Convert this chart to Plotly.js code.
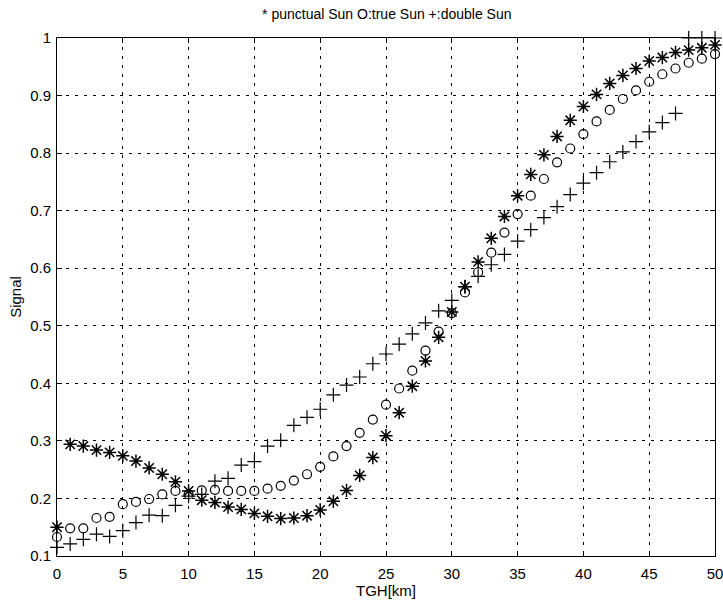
<!DOCTYPE html>
<html>
<head>
<meta charset="utf-8">
<script src="https://cdn.plot.ly/plotly-3.0.1.min.js"></script>
<style>html,body{margin:0;padding:0;background:#fff;}#chart{width:723px;height:603px;}</style>
</head>
<body>
<div id="chart"></div>
<script>
const xValues = [0,1,2,3,4,5,6,7,8,9,10,11,12,13,14,15,16,17,18,19,20,21,22,23,24,25,26,27,28,29,30,31,32,33,34,35,36,37,38,39,40,41,42,43,44,45,46,47,48,49,50];
const punctualSun = [0.150,0.294,0.291,0.284,0.280,0.274,0.265,0.253,0.242,0.229,0.213,0.197,0.193,0.185,0.181,0.174,0.169,0.165,0.166,0.170,0.180,0.195,0.214,0.240,0.271,0.309,0.349,0.395,0.439,0.480,0.524,0.568,0.611,0.652,0.690,0.726,0.763,0.797,0.829,0.857,0.881,0.902,0.921,0.935,0.947,0.960,0.966,0.975,0.979,0.983,0.988];
const trueSun = [0.133,0.148,0.148,0.166,0.168,0.190,0.194,0.199,0.207,0.213,0.207,0.214,0.215,0.213,0.213,0.213,0.217,0.222,0.231,0.242,0.255,0.273,0.291,0.314,0.337,0.363,0.391,0.422,0.457,0.490,0.522,0.558,0.593,0.627,0.662,0.694,0.726,0.755,0.784,0.808,0.833,0.855,0.875,0.894,0.909,0.924,0.937,0.947,0.957,0.964,0.972];
const doubleSun = [0.115,0.121,0.129,0.138,0.134,0.144,0.158,0.171,0.170,0.188,0.204,0.207,0.230,0.235,0.258,0.264,0.291,0.301,0.327,0.341,0.355,0.380,0.397,0.411,0.434,0.451,0.468,0.486,0.505,0.526,0.544,0.568,0.586,0.606,0.624,0.647,0.667,0.688,0.707,0.728,0.748,0.766,0.785,0.802,0.820,0.837,0.853,0.869,1.0,1.0,1.0];
const xTicks = [0,5,10,15,20,25,30,35,40,45,50];
const yTicks = [0.1,0.2,0.3,0.4,0.5,0.6,0.7,0.8,0.9,1];
const yTickText = ['0.1','0.2','0.3','0.4','0.5','0.6','0.7','0.8','0.9','1'];

const traces = [
  {x: xValues, y: punctualSun, mode: 'markers', type: 'scatter', cliponaxis: false,
   marker: {symbol: 'asterisk-open', size: 11, color: '#000', line: {color: '#000', width: 1.5}}},
  {x: xValues, y: trueSun, mode: 'markers', type: 'scatter', cliponaxis: false,
   marker: {symbol: 'circle-open', size: 9, color: '#000', line: {color: '#000', width: 1.2}}},
  {x: xValues, y: doubleSun, mode: 'markers', type: 'scatter', cliponaxis: false,
   marker: {symbol: 'cross-thin-open', size: 10, color: '#000', line: {color: '#000', width: 1.2}}}
];

const axisCommon = {
  showline: true, linecolor: '#000', linewidth: 1, mirror: 'ticks',
  ticks: 'inside', ticklen: 5, tickcolor: '#000', tickwidth: 1,
  showgrid: true, gridcolor: '#000', gridwidth: 1, griddash: '3px,6px',
  zeroline: false, ticklabeloverflow: 'allow',
  tickfont: {family: 'Liberation Sans, Arial, sans-serif', size: 15, color: '#000'}
};

const layout = {
  width: 723, height: 603,
  margin: {l: 57, r: 8, t: 38, b: 47},
  paper_bgcolor: '#fff', plot_bgcolor: '#fff',
  showlegend: false,
  title: {text: '* punctual Sun O:true Sun +:double Sun', x: 0.535, xanchor: 'center', y: 0.977, yanchor: 'middle',
          font: {family: 'Liberation Sans, Arial, sans-serif', size: 14, color: '#000'}},
  xaxis: Object.assign({}, axisCommon, {
    range: [0, 50], tickvals: xTicks, ticklabelstandoff: 4,
    title: {text: 'TGH[km]', standoff: 3, font: {family: 'Liberation Sans, Arial, sans-serif', size: 15, color: '#000'}}
  }),
  yaxis: Object.assign({}, axisCommon, {
    range: [0.1, 1], tickvals: yTicks, ticktext: yTickText, ticklabelstandoff: 2,
    title: {text: 'Signal', standoff: 4, font: {family: 'Liberation Sans, Arial, sans-serif', size: 15, color: '#000'}}
  })
};

Plotly.newPlot('chart', traces, layout, {displayModeBar: false, staticPlot: true});
</script>
</body>
</html>
